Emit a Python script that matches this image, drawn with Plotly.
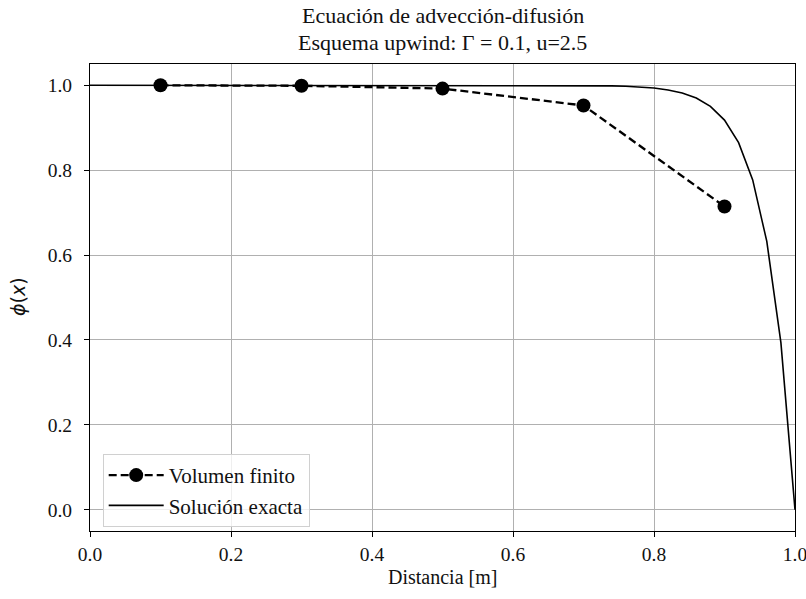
import plotly.graph_objects as go

# Finite volume (upwind) results
fv_x = [0.1, 0.3, 0.5, 0.7, 0.9]
fv_phi = [0.9998, 0.9987, 0.9921, 0.9524, 0.7143]

# Exact solution
ex_x = [0.00, 0.02, 0.04, 0.06, 0.08, 0.10, 0.12, 0.14, 0.16, 0.18,
        0.20, 0.22, 0.24, 0.26, 0.28, 0.30, 0.32, 0.34, 0.36, 0.38,
        0.40, 0.42, 0.44, 0.46, 0.48, 0.50, 0.52, 0.54, 0.56, 0.58,
        0.60, 0.62, 0.64, 0.66, 0.68, 0.70, 0.72, 0.74, 0.76, 0.78,
        0.80, 0.82, 0.84, 0.86, 0.88, 0.90, 0.92, 0.94, 0.96, 0.98, 1.00]
ex_phi = [1.0] * 35 + [0.9994, 0.9991, 0.9985, 0.9975, 0.9959,
                       0.9933, 0.9889, 0.9817, 0.9698, 0.9502,
                       0.9179, 0.8647, 0.7769, 0.6321, 0.3935, 0.0]

x_ticks = [0.0, 0.2, 0.4, 0.6, 0.8, 1.0]
y_ticks = [0.0, 0.2, 0.4, 0.6, 0.8, 1.0]

FONT = "Liberation Serif"
TXT = "#111"
L, R, T, B = 90, 11, 64, 68
W, H = 806, 599

fig = go.Figure()
fig.add_trace(go.Scatter(
    x=fv_x, y=fv_phi, mode="lines+markers", name="Volumen finito",
    line=dict(color="black", width=2.3, dash="8px,4px"),
    marker=dict(color="black", size=14),
    cliponaxis=False,
))
fig.add_trace(go.Scatter(
    x=ex_x, y=ex_phi, mode="lines", name="Solución exacta",
    line=dict(color="black", width=1.6),
))

axis_common = dict(
    showgrid=True, gridcolor="#b0b0b0", gridwidth=1,
    showline=True, linecolor="black", linewidth=1.2, mirror=True,
    ticks="outside", ticklen=5, tickcolor="black", tickwidth=1,
    zeroline=False, automargin=False, ticklabeloverflow="allow",
    tickfont=dict(family=FONT, size=19.5, color=TXT),
)

fig.update_layout(
    width=W, height=H,
    margin=dict(l=L, r=R, t=T, b=B, autoexpand=False),
    paper_bgcolor="white", plot_bgcolor="white",
    showlegend=True,
    legend=dict(
        x=0.018, y=0.165, xanchor="left", yanchor="top",
        bgcolor="rgba(255,255,255,0.8)", bordercolor="#d0d0d0", borderwidth=1,
        font=dict(family=FONT, size=21, color=TXT),
        tracegroupgap=0, itemwidth=55,
    ),
    xaxis=dict(range=[0, 1], tickvals=x_ticks, ticktext=[f"{v:.1f}" for v in x_ticks],
               ticklabelstandoff=0, **axis_common),
    yaxis=dict(range=[-0.05, 1.05], tickvals=y_ticks, ticktext=[f"{v:.1f}" for v in y_ticks],
               ticklabelstandoff=8, **axis_common),
)

H_plot = H - T - B
W_plot = W - L - R
def py(y_px):
    return (H - B - y_px) / H_plot
def px(x_px):
    return (x_px - L) / W_plot

common_ann = dict(xref="paper", yref="paper", showarrow=False,
                  xanchor="center", yanchor="middle")
fig.update_layout(annotations=[
    dict(text="Ecuación de advección-difusión", x=px(443), y=py(15),
         font=dict(family=FONT, size=22, color=TXT), **common_ann),
    dict(text="Esquema upwind: Γ = 0.1, u=2.5", x=px(443), y=py(42),
         font=dict(family=FONT, size=22, color=TXT), **common_ann),
    dict(text="Distancia [m]", x=px(443), y=py(577),
         font=dict(family=FONT, size=20, color=TXT), **common_ann),
    dict(text="<i>ϕ</i>(<i>x</i>)", x=px(18), y=py(297),
         textangle=-90, font=dict(family="DejaVu Sans", size=19, color=TXT), **common_ann),
])

fig.write_html("out.html")
